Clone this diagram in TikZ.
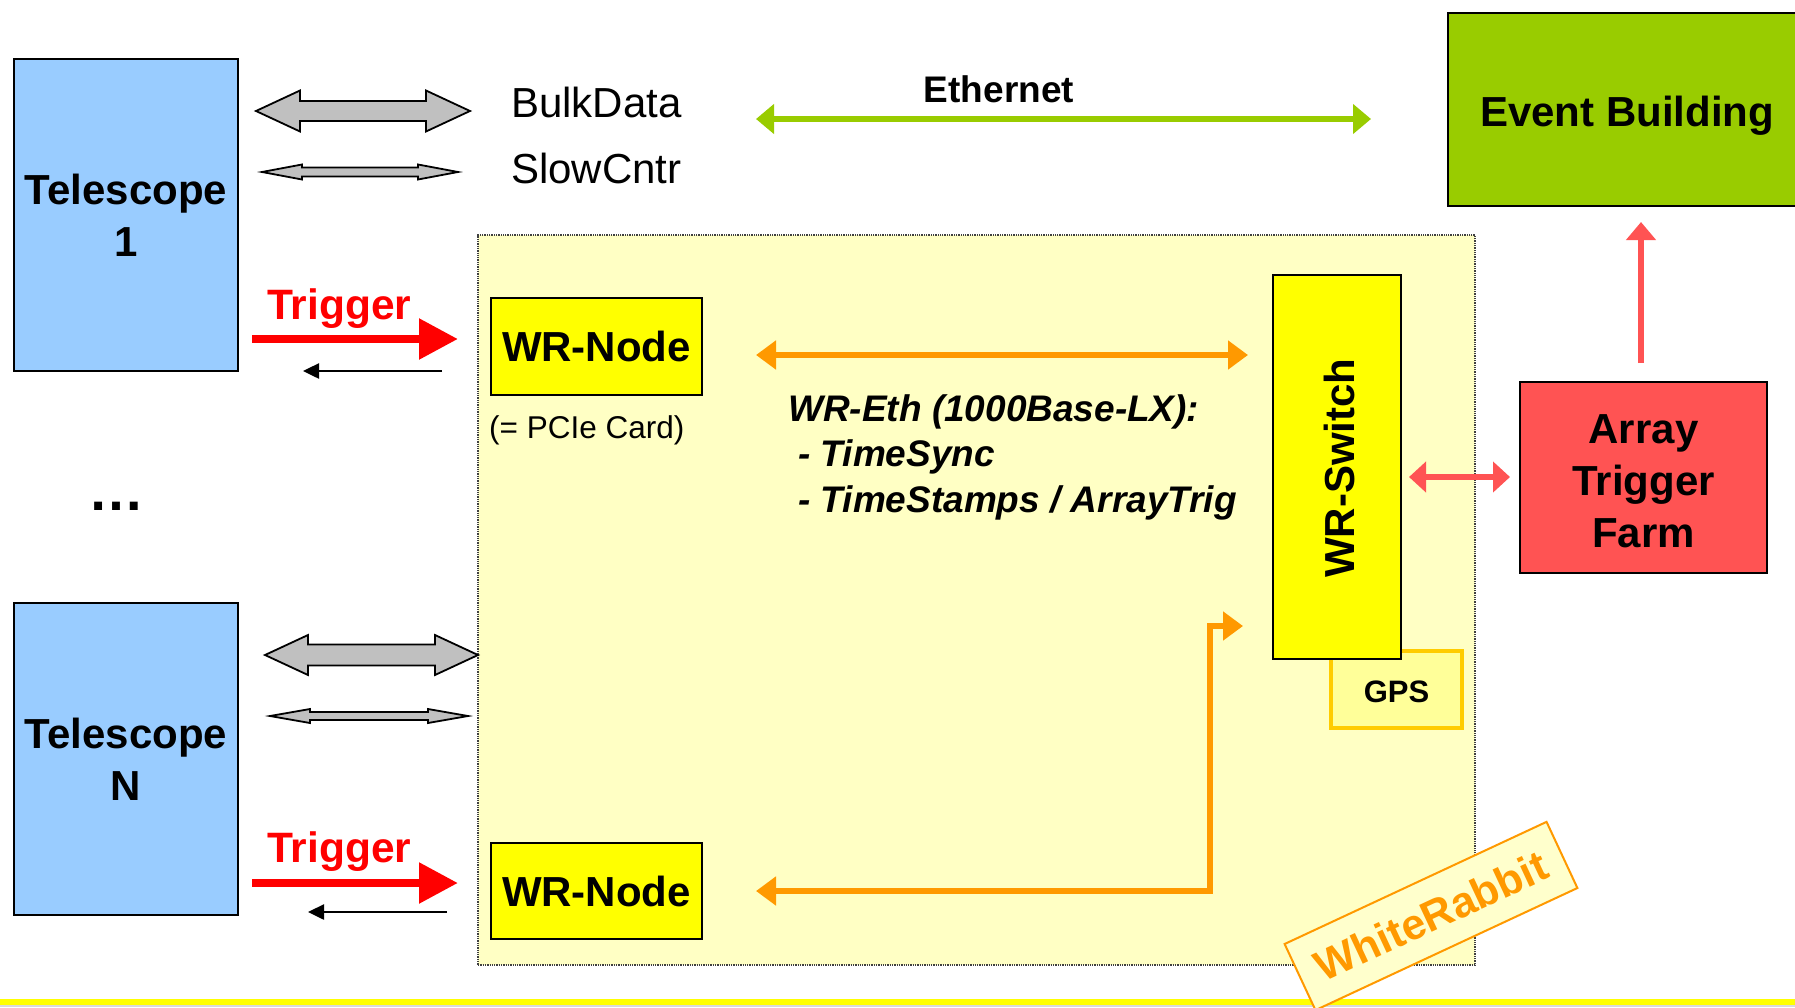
\documentclass[tikz,border=0pt]{standalone}
\usepackage{fontspec}
\setmainfont{Liberation Sans}
\usetikzlibrary{arrows.meta}
\definecolor{telblue}{HTML}{99CCFF}
\definecolor{evgreen}{HTML}{99CC00}
\definecolor{atfred}{HTML}{FF5353}
\definecolor{wryel}{HTML}{FFFF00}
\definecolor{areayel}{HTML}{FFFFC4}
\definecolor{gpsfill}{HTML}{FFFF99}
\definecolor{gpsedge}{HTML}{FFCC00}
\definecolor{wrorange}{HTML}{FF9900}
\definecolor{wrbox}{HTML}{FFFFCC}
\definecolor{blkgray}{HTML}{C0C0C0}
\newcommand{\dblblk}[6]{%
  \filldraw[blkarrow] (#1,#3) -- (#1+#6,#3-#5) -- (#1+#6,#3-#4) -- (#2-#6,#3-#4) -- (#2-#6,#3-#5) -- (#2,#3)
   -- (#2-#6,#3+#5) -- (#2-#6,#3+#4) -- (#1+#6,#3+#4) -- (#1+#6,#3+#5) -- cycle;}
\tikzset{
  box/.style={draw=black, line width=2pt, inner sep=0pt, align=center,
    font=\fontsize{42}{52}\selectfont\bfseries},
  blkarrow/.style={fill=blkgray, draw=black, line width=1.8pt, line join=miter},
  lbl/.style={inner sep=0pt, font=\fontsize{42}{48}\selectfont},
  ethline/.style={draw=evgreen, line width=6pt,
    arrows={Triangle[length=18pt,width=29pt]-Triangle[length=18pt,width=29pt]}},
  orline/.style={draw=wrorange, line width=5.5pt, line join=miter,
    arrows={Triangle[length=20pt,width=28pt]-Triangle[length=20pt,width=28pt]}},
  trigline/.style={draw=red, line width=8.5pt,
    arrows={-Triangle[length=39pt,width=39pt]}},
  backline/.style={draw=black, line width=2.5pt,
    arrows={-Triangle[length=16pt,width=15pt]}},
  atfline/.style={draw=atfred, line width=5.5pt},
  atfhead/.style={arrows={-Triangle[length=18pt,width=29pt]}},
  atfdbl/.style={arrows={Triangle[length=17pt,width=30pt]-Triangle[length=17pt,width=30pt]}},
}
\begin{document}
\begin{tikzpicture}[x=1pt,y=-1pt]
\useasboundingbox (0,0) rectangle (1795,1007);
\fill[white] (0,0) rectangle (1795,1007);
% bottom rule
\fill[wryel] (0,999) rectangle (1795,1005);
\fill[black!15] (0,1005) rectangle (1795,1007);
% White Rabbit area
\node (area) [fill=areayel, draw=black!75, densely dotted, line width=1.3pt, inner sep=0pt,
  minimum width=997pt, minimum height=730pt] at (976.5,600) {};
% boxes
\node (tel1) [box, fill=telblue, minimum width=224pt, minimum height=312pt] at (126,215) {Telescope\\1};
\node (telN) [box, fill=telblue, minimum width=224pt, minimum height=312pt] at (126,759) {Telescope\\N};
\node (dots) [inner sep=0pt, anchor=base, font=\fontsize{56}{60}\selectfont\bfseries] at (116,510) {…};
\node (evb) [box, fill=evgreen, minimum width=358pt, minimum height=193pt, text height=34pt, text depth=0pt]
  at (1627,109.5) {Event Building};
\node (atf) [box, fill=atfred, minimum width=247pt, minimum height=191pt, text height=139.6pt, text depth=0pt]
  at (1643.5,477.5) {Array\\Trigger\\Farm};
\node (wrn1) [box, fill=wryel, minimum width=211pt, minimum height=97pt] at (596.5,346.5) {WR-Node};
\node (wrn2) [box, fill=wryel, minimum width=211pt, minimum height=96pt] at (596.5,891) {WR-Node};
\node (gps) [draw=gpsedge, fill=gpsfill, line width=4pt, inner sep=0pt, minimum width=131pt, minimum height=77pt,
  text height=26pt, text depth=0pt, font=\fontsize{31}{36}\selectfont\bfseries] at (1396.5,689.5) {GPS};
\node (sw) [box, fill=wryel, minimum width=128pt, minimum height=384pt] at (1337,467) {};
\node (swlbl) [inner sep=0pt, rotate=90, font=\fontsize{42}{52}\selectfont\bfseries] at (1339,468) {WR-Switch};
% labels
\node (bulk) [lbl, anchor=base west] at (511,117) {BulkData};
\node (slow) [lbl, anchor=base west] at (511,183) {SlowCntr};
\node (eth) [inner sep=0pt, anchor=base, font=\fontsize{37}{44}\selectfont\bfseries] at (999,102) {Ethernet};
\node (trig1) [inner sep=0pt, anchor=base west, text=red, font=\fontsize{42.5}{50}\selectfont\bfseries] at (267,319) {Trigger};
\node (trig2) [inner sep=0pt, anchor=base west, text=red, font=\fontsize{42.5}{50}\selectfont\bfseries] at (267,862) {Trigger};
\node (pcie) [inner sep=0pt, anchor=base west, font=\fontsize{31.5}{38}\selectfont] at (489,438) {(= PCIe Card)};
\node (wreth) [inner sep=0pt, anchor=north west, align=left, font=\fontsize{37}{45.5}\selectfont\bfseries\itshape]
  at (788,394) {WR-Eth (1000Base-LX):\\\hspace*{10pt}- TimeSync\\\hspace*{10pt}- TimeStamps / ArrayTrig};
% grey block arrows
\dblblk{256}{470}{111}{10}{20.5}{44}
\dblblk{262}{458}{172}{4.5}{7.5}{40}
\dblblk{265}{478}{655}{10.5}{20}{43}
\dblblk{270}{468}{716}{4}{7}{40}
% connector end points
\coordinate (ethL) at (756,119);
\coordinate (ethR) at (1371,119);
\coordinate (orL1) at (756,355);
\coordinate (orR1) at (1248,355);
\coordinate (orL2) at (756,891);
\coordinate (orC2) at (1210,891);
\coordinate (orU2) at (1210,626);
\coordinate (orR2) at (1243,626);
\coordinate (tr1a) at (252,339);
\coordinate (tr1b) at (458,339);
\coordinate (bk1a) at (442,371);
\coordinate (bk1b) at (303,371);
\coordinate (tr2a) at (252,883);
\coordinate (tr2b) at (458,883);
\coordinate (bk2a) at (447,912);
\coordinate (bk2b) at (308,912);
\coordinate (upA) at (1641,363);
\coordinate (upB) at (1641,222);
\coordinate (swA) at (1409,477);
\coordinate (swB) at (1510,477);
% connectors
\draw[ethline] (ethL) -- (ethR);
\draw[orline] (orL1) -- (orR1);
\draw[orline] (orL2) -- (orC2) -- (orU2) -- (orR2);
\draw[trigline] (tr1a) -- (tr1b);
\draw[backline] (bk1a) -- (bk1b);
\draw[trigline] (tr2a) -- (tr2b);
\draw[backline] (bk2a) -- (bk2b);
\draw[atfline, atfhead] (upA) -- (upB);
\draw[atfline, atfdbl] (swA) -- (swB);
% White Rabbit tag
\node (wrtag) [draw=wrorange, fill=wrbox, line width=2pt, rotate=25, inner sep=0pt,
  minimum width=289pt, minimum height=73pt, text=wrorange, font=\fontsize{43}{48}\selectfont\bfseries]
  at (1431,916) {WhiteRabbit};
\end{tikzpicture}
\end{document}
